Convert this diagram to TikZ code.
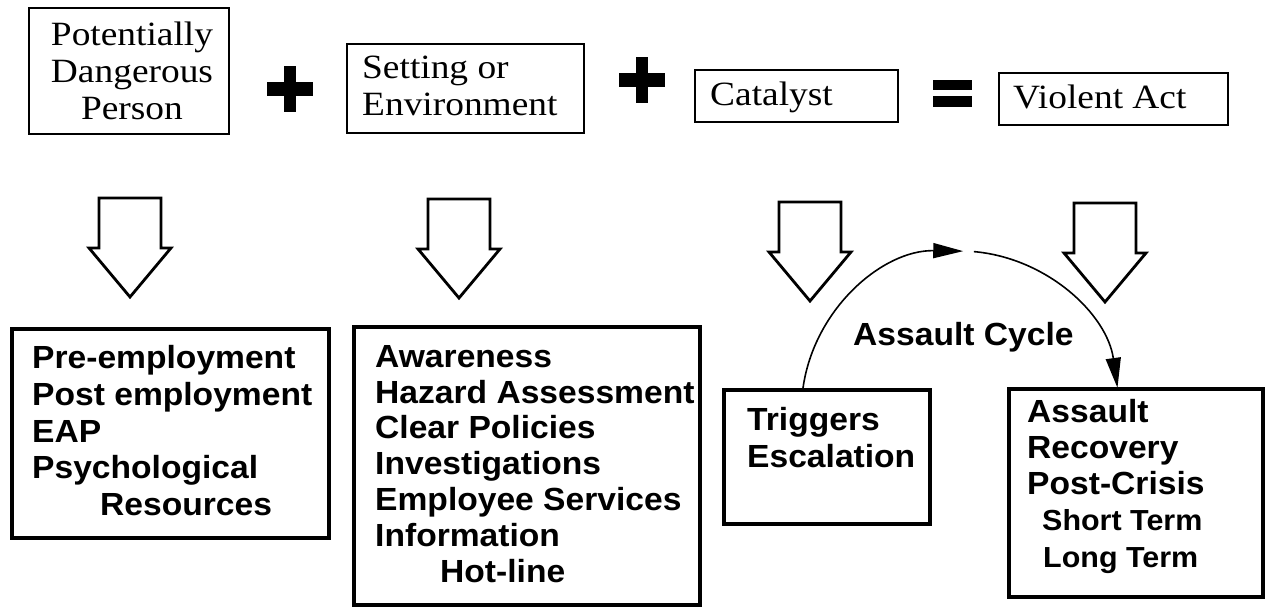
\documentclass[tikz,border=0pt]{standalone}
\usepackage{fontspec}
\usetikzlibrary{arrows.meta}
\newfontfamily\serifA[FakeStretch=1.1]{Liberation Serif}
\newfontfamily\sansA[FakeStretch=1.05]{Liberation Sans}
\begin{document}
\begin{tikzpicture}[x=1pt,y=-1pt,
  thinbox/.style={draw, line width=1.5pt, anchor=north west, inner sep=0pt},
  thickbox/.style={draw, line width=4pt, anchor=north west, inner sep=0pt},
  sertext/.style={inner sep=0pt, anchor=north west, align=left, font={\serifA\fontsize{34}{37}\selectfont}},
  santext/.style={inner sep=0pt, anchor=north west, align=left, font={\sansA\bfseries\fontsize{32}{#1}\selectfont}},
  santext/.default=36.5,
  cycarrow/.style={line width=1.6pt, -{Triangle[length=30pt,width=15pt]}},
  blockarrow/.pic={\draw[line width=2.8pt, line join=miter, fill=white]
      (-31,0) -- (31,0) -- (31,50) -- (41,50) -- (0,99) -- (-41,50) -- (-31,50) -- cycle;},
  plussign/.pic={\fill (-23,-7) rectangle (23,7); \fill (-6,-23) rectangle (6,23);}
]
\useasboundingbox (0,0) rectangle (1266,608);

% top row boxes
\node[thinbox, minimum width=200pt, minimum height=126pt] (pdp) at (28,7) {};
\node[sertext, align=center, anchor=north] (pdpt) at (132,15) {\rule{0pt}{30pt}Potentially\\Dangerous\\Person};
\node[thinbox, minimum width=237pt, minimum height=89pt] (set) at (346,43) {};
\node[sertext] (sett) at (362,48) {\rule{0pt}{30pt}Setting or\\Environment};
\node[thinbox, minimum width=203pt, minimum height=52pt] (cat) at (694,69) {};
\node[sertext] (catt) at (710,75) {\rule{0pt}{30pt}Catalyst};
\node[thinbox, minimum width=229pt, minimum height=52pt] (via) at (998,72) {};
\node[sertext] (viat) at (1013,78) {\rule{0pt}{30pt}Violent Act};

% operators
\pic at (290,89) {plussign};
\pic at (642,80) {plussign};
\fill (933,80) rectangle (972,90);
\fill (933,96) rectangle (972,107);

% hollow block arrows
\pic at (130,198) {blockarrow};
\pic at (459,199) {blockarrow};
\pic at (810,202) {blockarrow};
\pic at (1105,203) {blockarrow};

% bottom boxes
\node[thickbox, minimum width=317pt, minimum height=209pt] (pre) at (10,327) {};
\node[santext=36.9] (pret) at (32,338) {\rule{0pt}{30pt}Pre-employment\\Post employment\\EAP\\Psychological\\\hspace*{68pt}Resources};
\node[thickbox, minimum width=346pt, minimum height=278pt] (awa) at (352,325) {};
\node[santext=35.8] (awat) at (375,337) {\rule{0pt}{30pt}Awareness\\Hazard Assessment\\Clear Policies\\Investigations\\Employee Services\\Information\\\hspace*{65pt}Hot-line};
\node[thickbox, minimum width=206pt, minimum height=134pt] (trig) at (722,388) {};
\node[santext=37] (trigt) at (747,400) {\rule{0pt}{30pt}Triggers\\Escalation};
\node[thickbox, minimum width=254pt, minimum height=208pt] (asl) at (1007,387) {};
\node[santext=36.2] (aslt) at (1027,392) {\rule{0pt}{30pt}Assault\\Recovery\\Post-Crisis\\\hspace*{15pt}{\fontsize{29}{36.2}\selectfont Short Term}\\\hspace*{16pt}{\fontsize{29}{36.2}\selectfont Long Term}};

% assault cycle
\node[inner sep=0pt, anchor=base west, font={\sansA\bfseries\fontsize{32}{36}\selectfont}] (cyc) at (853,345) {Assault Cycle};
\coordinate (cyccenter) at (960,410);
\draw[cycarrow] ([xshift=81pt]trig.north west) arc[start angle=188, end angle=271, radius=159];
\draw[cycarrow] ([shift={(275:159)}]cyccenter) arc[start angle=275, end angle=352, radius=159];
\end{tikzpicture}
\end{document}
